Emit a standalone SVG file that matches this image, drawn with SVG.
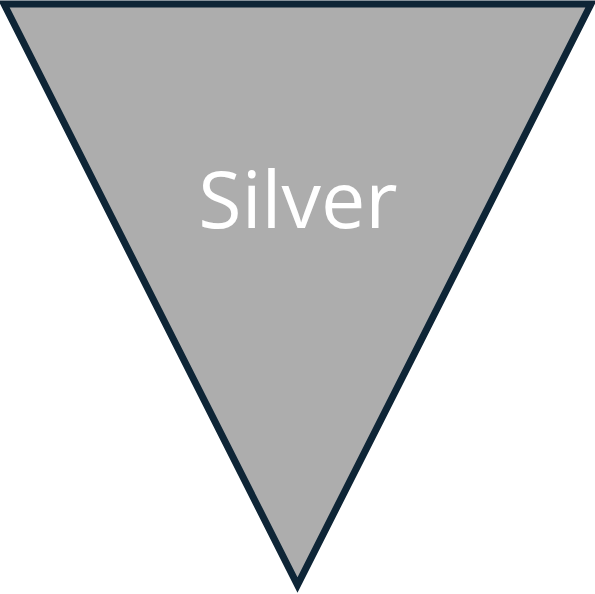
<svg xmlns="http://www.w3.org/2000/svg" width="595" height="594" viewBox="0 0 595 594">
<style>
.tri{fill:#adadad;stroke:#0e2536;stroke-width:7;stroke-linejoin:miter;stroke-miterlimit:10}
.lbl{font-family:"Open Sans","Noto Sans",sans-serif;font-size:79px;fill:#ffffff;text-anchor:middle}
</style>
<g id="node-silver">
<polygon class="tri" points="4,4 591,4 297.5,585"/>
<text class="lbl" x="298" y="228">Silver</text>
</g>
<g id="connectors"/>
</svg>
